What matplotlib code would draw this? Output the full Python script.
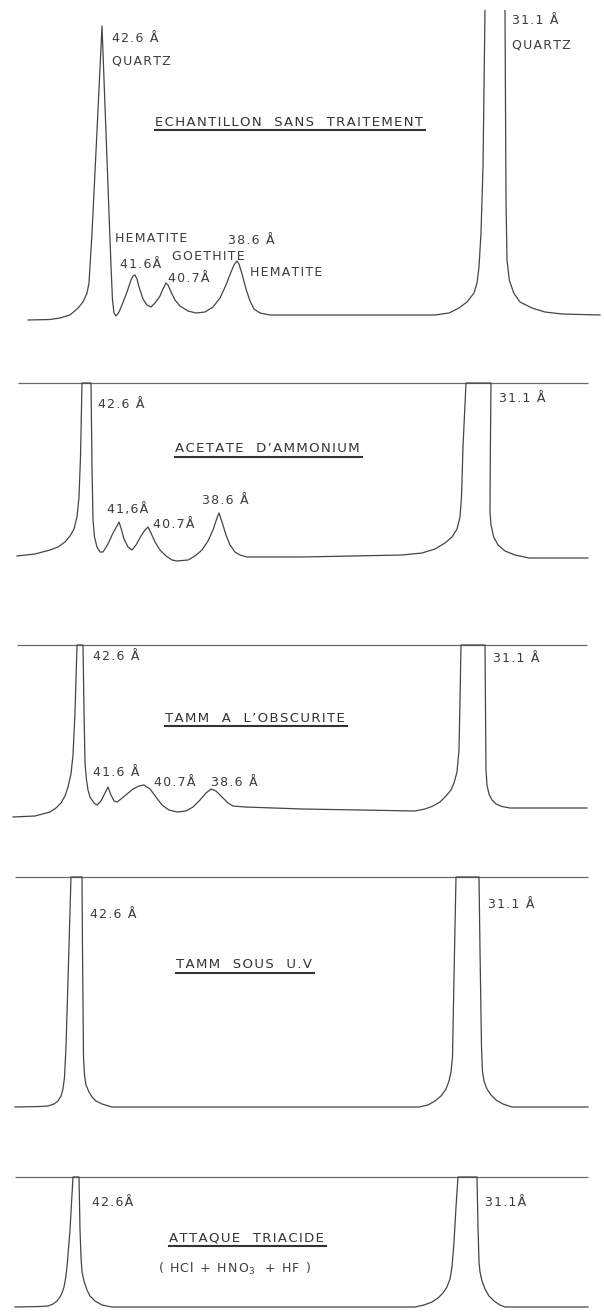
import matplotlib.pyplot as plt
from matplotlib.lines import Line2D

# recorder traces: pen position x, intensity above the baseline
# (values above the top of a chart are off the paper and get clipped)
p1_x = [28, 50, 60, 70, 78, 83, 87, 89, 92, 97, 102, 105, 108, 111, 112.5, 114, 116,
        119, 122, 127, 131, 133, 135, 137, 139, 143, 147, 151, 155, 160, 163, 166,
        168, 171, 175, 180, 188, 196, 205, 213, 220, 226, 231, 234, 237, 239, 242,
        246, 250, 254, 260, 270, 350, 435, 449, 459, 467, 474, 477, 479, 481, 483,
        485, 485.5, 504.5, 505, 506, 507, 509.3, 513.7, 520, 532, 545, 562, 600]
p1_i = [-4, -3.5, -2, 1, 8, 14, 23, 33, 83, 185, 290, 210, 130, 50, 16, 3, 0,
        4, 11, 24, 36, 40, 41, 37, 29, 17, 11, 9, 13, 20, 27, 33,
        31, 24, 16, 10, 5, 3, 4, 9, 18, 31, 44, 51, 55, 52, 42,
        27, 15, 7, 3, 1, 1, 1, 3, 8, 14, 23, 33, 49, 83, 149,
        306, 340, 340, 306, 116, 56, 36, 23, 14, 8, 4, 2, 1]

p2_x = [17, 35, 50, 58, 65, 70, 74, 77, 79, 80.5, 82, 91, 92, 93, 94.5, 97, 100, 103,
        108, 113, 117, 119, 121, 124, 128, 132, 136, 141, 145, 148, 151, 155, 160,
        166, 172, 177, 188, 195, 202, 208, 213, 217, 219, 222, 226, 230, 235, 240,
        247, 302, 402, 422, 435, 445, 452, 457, 460, 461.5, 463, 466, 491, 490.3,
        490, 491, 493.7, 498, 505, 515, 529, 588]
p2_i = [1, 3, 7, 10, 15, 21, 28, 40, 60, 100, 174, 174, 90, 37, 20, 10, 5, 5,
        13, 24, 31, 35, 29, 18, 10, 7, 12, 21, 27, 30, 24, 15, 7,
        1, -3, -4, -3, 1, 7, 16, 27, 39, 44, 35, 22, 12, 5, 2,
        0, 0, 2, 4, 8, 14, 20, 28, 40, 60, 110, 174, 174, 100,
        45, 32, 20, 12, 6, 2, -1, -1]

p3_x = [13, 35, 50, 56, 61, 65, 68, 71, 73, 75, 77, 83, 84, 85, 86.5, 88, 90, 94, 97,
        101, 105, 108, 111, 114, 117, 121, 127, 133, 139, 144, 150, 156, 162, 169,
        177, 186, 193, 200, 206, 211, 216, 222, 228, 233, 245, 302, 360, 415, 425,
        433, 440, 446, 451, 454, 457, 459, 460, 461, 485, 485.5, 486, 487, 489, 492,
        496, 502, 510, 587]
p3_i = [-7, -6, -2, 2, 7, 14, 23, 36, 55, 97, 165, 165, 100, 47, 30, 20, 13, 7, 5,
        9, 17, 23, 15, 9, 8, 11, 16, 21, 24, 25, 21, 13, 5, 0,
        -2, -1, 3, 10, 17, 21, 19, 13, 7, 4, 3, 1, 0, -1, 1,
        4, 8, 14, 20, 27, 38, 60, 110, 165, 165, 100, 40, 25, 16, 10,
        6, 3.5, 2, 2]

p4_x = [15, 40, 48, 54, 58, 61, 63, 64.5, 66, 68, 71, 82, 82.5, 83.5, 84.5, 86, 89,
        92, 96, 102, 112, 419, 428, 435, 441, 446, 449, 451, 452.5, 454, 456, 479,
        480, 481.5, 482.5, 484, 487, 491, 496, 503, 512, 588]
p4_i = [0, 0.5, 1, 3, 6, 11, 18, 30, 60, 127, 230, 230, 157, 50, 32, 22, 15,
        10, 6, 3, 0, 0, 2, 6, 11, 18, 26, 35, 50, 130, 230, 230,
        157, 60, 35, 26, 18, 12, 7, 3, 0, 0]

p5_x = [15, 40, 48, 53, 57, 60, 62, 64, 65.5, 67, 70, 73, 79, 80, 81, 82, 84, 87, 90,
        95, 102, 112, 415, 424, 432, 438, 443, 447, 450, 452, 454, 456, 458, 477,
        478, 479, 480, 482, 485, 489, 494, 500, 505, 588]
p5_i = [0, 0.5, 1, 3, 6, 10, 14, 20, 28, 40, 77, 130, 130, 77, 50, 35, 26, 17, 11,
        6, 2, 0, 0, 2, 5, 9, 14, 20, 28, 40, 65, 100, 130, 130,
        80, 45, 35, 26, 18, 11, 6, 2, 0, 0]

traces_x = [p1_x, p2_x, p3_x, p4_x, p5_x]
traces_i = [p1_i, p2_i, p3_i, p4_i, p5_i]

# full scale of the recorder paper (no line on the first chart)
full_scale = [None, 174, 165, 230, 130]
paper_left = [None, 18, 17, 15, 15]
paper_right = [None, 588, 587, 588, 588]

titles = ["ECHANTILLON  SANS  TRAITEMENT", "ACETATE  D\u2019AMMONIUM",
          "TAMM  A  L\u2019OBSCURITE", "TAMM  SOUS  U.V", "ATTAQUE  TRIACIDE"]

# peak labels: (x, intensity, text) per chart
labels = [
    [(112, 277, "42.6 Å"), (112, 255, "QUARTZ"), (115, 78, "HEMATITE"),
     (120, 51, "41.6Å"), (172, 59, "GOETHITE"), (168, 37, "40.7Å"),
     (228, 75, "38.6 Å"), (250, 43, "HEMATITE"), (512, 295, "31.1 Å"),
     (512, 271, "QUARTZ")],
    [(98, 153, "42.6 Å"), (107, 47, "41,6Å"), (153, 33, "40.7Å"),
     (202, 56, "38.6 Å"), (499, 158, "31.1 Å")],
    [(93, 153, "42.6 Å"), (93, 37, "41.6 Å"), (154, 27, "40.7Å"),
     (211, 27, "38.6 Å"), (493, 152, "31.1 Å")],
    [(90, 193, "42.6 Å"), (488, 203, "31.1 Å")],
    [(92, 105, "42.6Å"), (485, 105, "31.1Å")],
]
title_pos = [(155, 194), (175, 108), (165, 92), (176, 142), (169, 69)]
acid_mix = ("( HCl + HNO", "$_3$", "  + HF )")
acid_pos = (158, 38)

# layout of the five charts on the page, in pixels: top, bottom, baseline
page_rows = [(10, 345, 316), (375, 605, 557), (635, 845, 810),
             (865, 1125, 1107), (1165, 1314, 1307)]


def spaced(s):
    # stencil lettering is wide, open a little room between the letters
    return '\u200a'.join(s)


W, H = 604, 1314
ink = '#454545'
fig = plt.figure(figsize=(W / 100, H / 100), dpi=100)
fig.patch.set_facecolor('white')

axes = []
title_texts = []
for k in range(5):
    top, bot, base = page_rows[k]
    ax = fig.add_axes([0, 1 - bot / H, 1, (bot - top) / H])
    ax.set_xlim(0, W)
    ax.set_ylim(base - bot, base - top)
    ax.axis('off')
    if full_scale[k] is not None:
        ax.hlines(full_scale[k], paper_left[k], paper_right[k], color='#6a6a6a', lw=0.9)
    ax.plot(traces_x[k], traces_i[k], color=ink, lw=0.9, solid_joinstyle='round')
    for x, y, s in labels[k]:
        ax.text(x, y, spaced(s), fontsize=9, color='#3c3c3c', ha='left', va='center',
                family='DejaVu Sans')
    tx, ty = title_pos[k]
    t = ax.text(tx, ty, spaced(titles[k]), fontsize=9.5, color='#333333', ha='left',
                va='center', family='DejaVu Sans')
    axes.append(ax)
    title_texts.append(t)

ax = axes[4]
ax.text(acid_pos[0], acid_pos[1],
        spaced(acid_mix[0]) + acid_mix[1] + spaced(acid_mix[2]),
        fontsize=9, color='#3c3c3c', ha='left', va='center', family='DejaVu Sans')

# underline each title under its drawn extent
fig.canvas.draw()
renderer = fig.canvas.get_renderer()
for ax, t in zip(axes, title_texts):
    bb = t.get_window_extent(renderer)
    inv = ax.transData.inverted()
    (x0, y0), (x1, y1) = inv.transform([(bb.x0, bb.y0), (bb.x1, bb.y1)])
    ax.add_line(Line2D([x0, x1 + 2], [y0 - 1, y0 - 1], color='#333333', lw=1.5))

fig.savefig('out.png', dpi=100, facecolor='white')
